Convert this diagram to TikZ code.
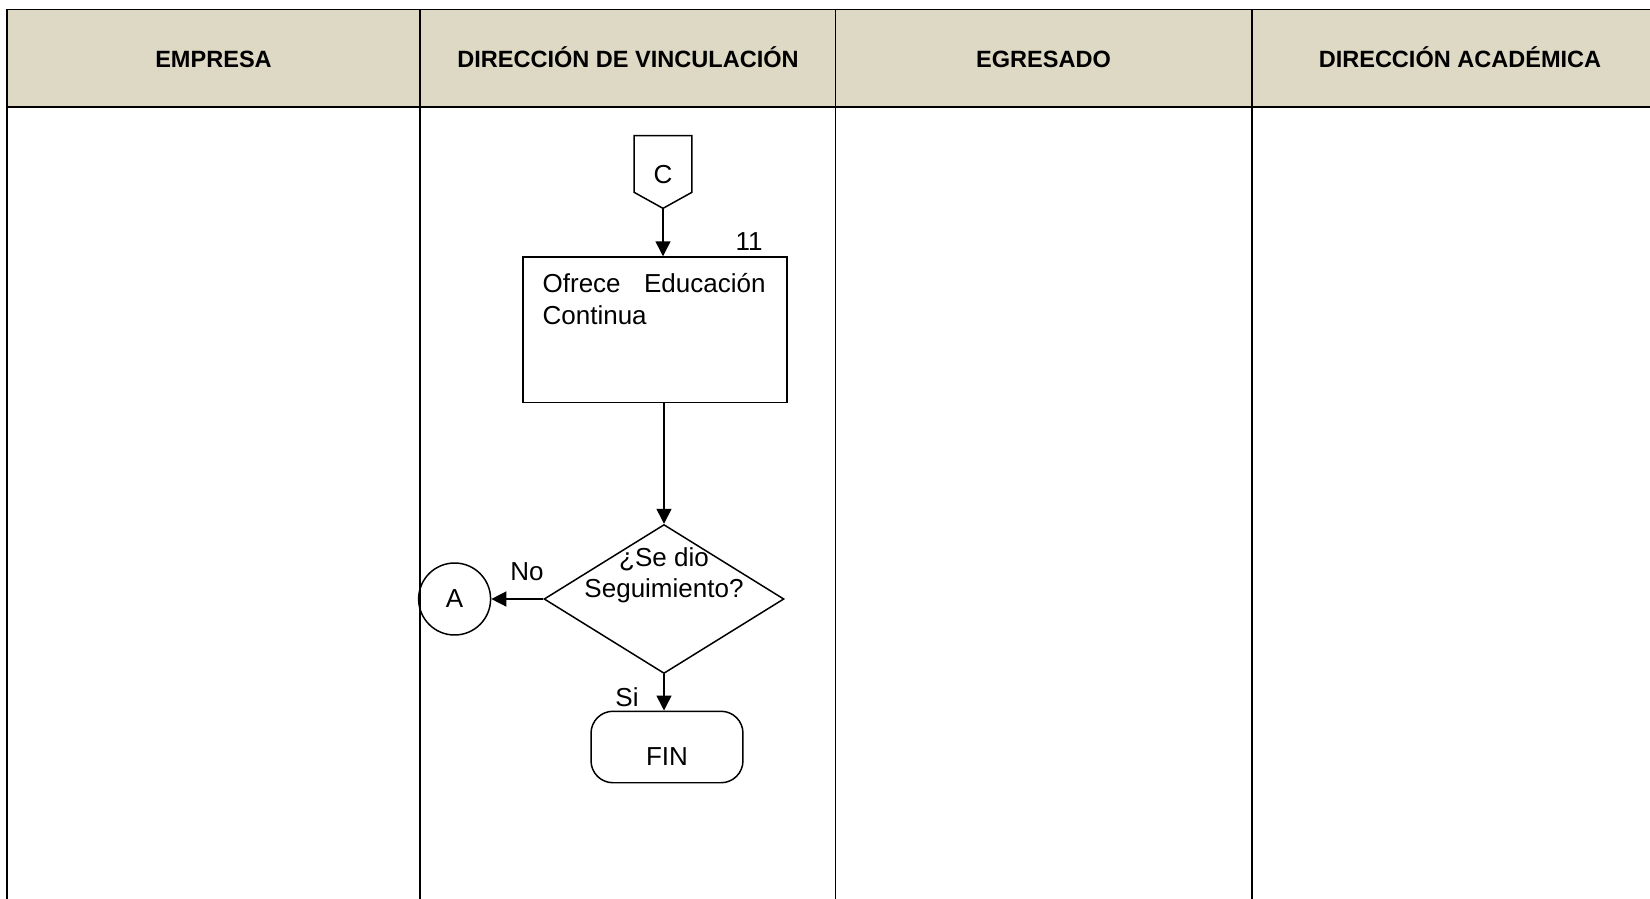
\documentclass[tikz,border=0pt]{standalone}
\usepackage{fontspec}
\setmainfont{Liberation Sans}
\usetikzlibrary{arrows.meta,calc,shapes.geometric}
\definecolor{headtan}{HTML}{DDD9C4}
\tikzset{
  lanehead/.style={font=\fontsize{13.4}{16}\selectfont\bfseries, anchor=base},
  flowtext/.style={font=\fontsize{14.8}{17.8}\selectfont},
  shapeline/.style={draw, line width=0.85pt},
  flowarrow/.style={line width=0.85pt, -{Triangle[length=0.3cm,width=0.3cm]}},
}

\begin{document}
\begin{tikzpicture}[x=0.02cm, y=-0.02cm]
      \clip (0,0) rectangle (1650,899);
      % lane header
      \fill[headtan] (7,9.5) rectangle (1680,107);
      \draw[line width=1.1pt] (1680,9.5) -- (7,9.5) -- (7,905);
      \draw[line width=1.1pt] (7,107) -- (1680,107);
      \foreach \x in {420,835.5,1252}
        \draw[line width=0.7pt] (\x,9.5) -- (\x,905);
      % lane titles
      \node[lanehead] (hempresa) at (213.5,67) {EMPRESA};
      \node[lanehead] (hvinc) at (628,67) {DIRECCIÓN DE VINCULACIÓN};
      \node[lanehead] (hegresado) at (1043.5,67) {EGRESADO};
      \node[lanehead] (hacad) at (1460,67) {DIRECCIÓN ACADÉMICA};
      % off-page connector C
      \node[flowtext, minimum width=1.14cm, minimum height=1.44cm, inner sep=0pt] (conC) at (663,172) {};
      \draw[shapeline] (conC.north west) -- (conC.north east) -- ($(conC.south east)+(0,-16)$)
        -- (conC.south) -- ($(conC.south west)+(0,-16)$) -- cycle;
      \node[flowtext] (conCtxt) at ($(conC.center)+(0,2.5)$) {C};
      % activity 11
      \node[shapeline, minimum width=5.28cm, minimum height=2.91cm, inner sep=0pt] (act11) at (655,329.75) {};
      \node[flowtext, text width=4.46cm, align=justify, anchor=north west, inner sep=0pt] (act11txt)
        at ($(act11.north west)+(20,17)$) {Ofrece Educación Continua};
      \node[flowtext] (num11) at (749,242) {11};
      % decision
      \node[shapeline, diamond, minimum width=4.8cm, minimum height=2.98cm, inner sep=0pt] (dec) at (664,599) {};
      \node[flowtext, align=center] (dectxt) at (664,575.5) {¿Se dio\\Seguimiento?};
      % connector A and end
      \node[shapeline, circle, minimum size=1.44cm, inner sep=0pt, flowtext] (conA) at (454.6,599) {A};
      \node[shapeline, rounded corners=0.44cm, minimum width=3.04cm, minimum height=1.43cm] (fin) at (667,747) {};
      \node[flowtext] (fintxt) at ($(fin.center)+(0,9.5)$) {FIN};
      % arrows
      \draw[flowarrow] (conC.south) -- (conC.south |- act11.north);
      \draw[flowarrow] (act11.south -| dec.north) -- (dec.north);
      \draw[flowarrow] (dec.west) -- (conA.east);
      \draw[flowarrow] (dec.south) -- (dec.south |- fin.north);
      % branch labels
      \node[flowtext] (lblno) at (527,572) {No};
      \node[flowtext] (lblsi) at (627,697) {Si};
\end{tikzpicture}
\end{document}
